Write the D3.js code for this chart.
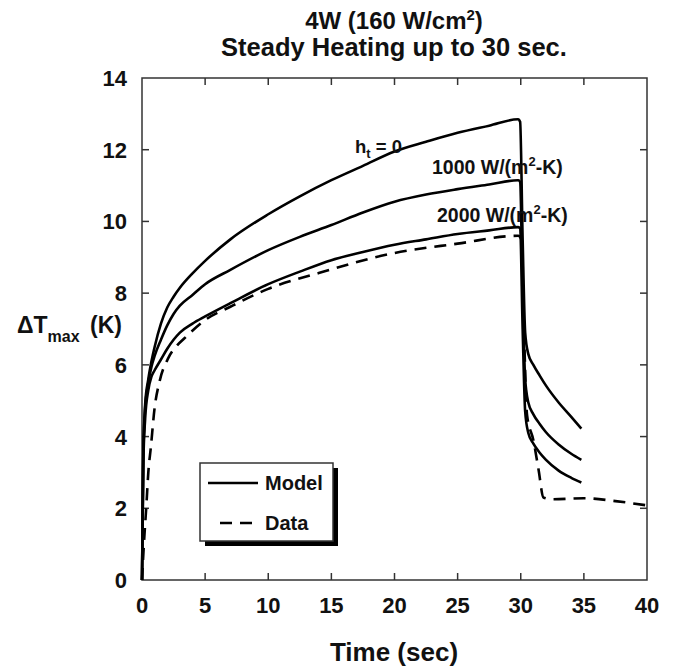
<!DOCTYPE html>
<html>
<head>
<meta charset="utf-8">
<script src="https://cdn.jsdelivr.net/npm/d3@7"></script>
<style>
    body { margin: 0; background: #fff; }
    text { font-family: "Liberation Sans", Arial, sans-serif; font-weight: bold; fill: #111; }
    .frame { fill: none; stroke: #333; stroke-width: 1.5; }
    .tick-mark { stroke: #333; stroke-width: 1.5; }
    .curve { fill: none; stroke: #000; stroke-width: 2.6; stroke-linejoin: round; }
    .dashed { stroke-dasharray: 12, 8; }
</style>
</head>
<body>
<div id="chart"></div>
<script>
// model time points (sec), shared by the three model curves
const modelTime = [0, 0.1, 0.25, 0.5, 0.75, 1, 1.5, 2, 2.5, 3, 4, 5, 7, 10, 12.5, 15, 17.5, 20, 22.5, 25,
    27.5, 29.8, 29.95, 30.15, 30.35, 30.6, 31, 31.5, 32, 33, 34, 34.8];
const modelH0 = [0, 3.5, 4.9, 5.6, 6.1, 6.5, 7.15, 7.6, 7.9, 8.15, 8.55, 8.9, 9.5, 10.2, 10.7, 11.15, 11.55, 11.95, 12.22, 12.47,
    12.67, 12.85, 12.78, 9.5, 6.9, 6.3, 6.0, 5.7, 5.42, 4.95, 4.55, 4.22];
const modelH1000 = [0, 3.4, 4.8, 5.5, 5.95, 6.25, 6.7, 7.1, 7.42, 7.65, 7.95, 8.25, 8.65, 9.2, 9.57, 9.9, 10.25, 10.55, 10.75, 10.9,
    11.03, 11.15, 11.1, 8.0, 5.6, 4.95, 4.62, 4.35, 4.12, 3.78, 3.52, 3.35];
const modelH2000 = [0, 3.2, 4.5, 5.3, 5.67, 5.85, 6.15, 6.45, 6.7, 6.9, 7.15, 7.35, 7.72, 8.25, 8.6, 8.92, 9.15, 9.35, 9.5, 9.65,
    9.75, 9.84, 9.8, 7.0, 4.7, 4.1, 3.8, 3.55, 3.35, 3.05, 2.85, 2.72];

// measured data
const dataTime = [0, 0.15, 0.35, 0.5, 0.7, 1.0, 1.4, 2.1, 2.8, 3.3, 5, 7, 10, 14, 20, 25, 29.8, 30.05, 30.25, 30.5,
    31, 31.4, 31.8, 32.5, 35, 37.5, 40];
const dataValue = [0, 1.0, 2.1, 3.0, 3.7, 4.8, 5.55, 6.2, 6.55, 6.72, 7.25, 7.62, 8.12, 8.56, 9.12, 9.38, 9.6, 9.5, 7.0, 4.6,
    3.9, 3.1, 2.3, 2.25, 2.28, 2.2, 2.08];

const xTicks = [0, 5, 10, 15, 20, 25, 30, 35, 40];
const yTicks = [0, 2, 4, 6, 8, 10, 12, 14];
const legendItems = [["Model", false], ["Data", true]];

const W = 673, H = 668;
const margin = { top: 78, right: 26, bottom: 88, left: 142 };

let svg = d3.select("#chart").append("svg").attr("width", W).attr("height", H);

let x = d3.scaleLinear().domain([0, 40]).range([margin.left, W - margin.right]);
let y = d3.scaleLinear().domain([0, 14]).range([H - margin.bottom, margin.top]);

// frame + inward ticks on all four sides
svg.append("rect").classed("frame", true)
    .attr("x", x(0)).attr("y", y(14)).attr("width", x(40) - x(0)).attr("height", y(0) - y(14));

let tickLen = 7;
for (let t of xTicks.slice(1, -1)) {
    svg.append("line").classed("tick-mark", true).attr("x1", x(t)).attr("x2", x(t)).attr("y1", y(0)).attr("y2", y(0) - tickLen);
    svg.append("line").classed("tick-mark", true).attr("x1", x(t)).attr("x2", x(t)).attr("y1", y(14)).attr("y2", y(14) + tickLen);
}
for (let t of yTicks.slice(1, -1)) {
    svg.append("line").classed("tick-mark", true).attr("x1", x(0)).attr("x2", x(0) + tickLen).attr("y1", y(t)).attr("y2", y(t));
    svg.append("line").classed("tick-mark", true).attr("x1", x(40)).attr("x2", x(40) - tickLen).attr("y1", y(t)).attr("y2", y(t));
}

svg.selectAll(".x-label").data(xTicks).join("text").classed("x-label", true)
    .attr("x", d => x(d)).attr("y", y(0) + 33).attr("text-anchor", "middle").style("font-size", "22px").text(d => d);
svg.selectAll(".y-label").data(yTicks).join("text").classed("y-label", true)
    .attr("x", x(0) - 15).attr("y", d => y(d) + 8).attr("text-anchor", "end").style("font-size", "22px").text(d => d);

// curves
let line = d3.line().x(d => x(d[0])).y(d => y(d[1])).curve(d3.curveMonotoneX);
for (let series of [modelH0, modelH1000, modelH2000]) {
    svg.append("path").classed("curve", true).attr("d", line(modelTime.map((t, i) => [t, series[i]])));
}
svg.append("path").classed("curve dashed", true).attr("d", line(dataTime.map((t, i) => [t, dataValue[i]])));

// titles
let title1 = svg.append("text").attr("x", 394).attr("y", 29).attr("text-anchor", "middle").style("font-size", "24px");
title1.append("tspan").text("4W (160 W/cm");
title1.append("tspan").attr("dy", -9).style("font-size", "15px").text("2");
title1.append("tspan").attr("dy", 9).text(")");
svg.append("text").attr("x", 394).attr("y", 56).attr("text-anchor", "middle").style("font-size", "25.5px")
    .text("Steady Heating up to 30 sec.");

svg.append("text").attr("x", 394).attr("y", 661).attr("text-anchor", "middle").style("font-size", "26px").text("Time (sec)");

let yLab = svg.append("text").attr("x", 17).attr("y", 333).style("font-size", "23px");
yLab.append("tspan").text("\u0394T");
yLab.append("tspan").attr("dy", 9).style("font-size", "16px").text("max");
yLab.append("tspan").attr("x", 90).attr("dy", -9).text("(K)");

// curve annotations
let ann0 = svg.append("text").attr("x", 355).attr("y", 153).style("font-size", "18.5px");
ann0.append("tspan").text("h");
ann0.append("tspan").attr("dy", 5).style("font-size", "13px").text("t");
ann0.append("tspan").attr("dy", -5).text(" = 0");

for (let [lab, ly, lx] of [["1000", 174, 432], ["2000", 222, 437]]) {
    let a = svg.append("text").attr("x", lx).attr("y", ly).style("font-size", "19.5px");
    a.append("tspan").text(lab + " W/(m");
    a.append("tspan").attr("dy", -8).style("font-size", "13px").text("2");
    a.append("tspan").attr("dy", 8).text("-K)");
}

// legend with drop shadow
let lg = svg.append("g").attr("transform", "translate(200,463)");
lg.append("rect").attr("x", 5).attr("y", 5).attr("width", 133).attr("height", 78).attr("fill", "#000");
lg.append("rect").attr("x", 0).attr("y", 0).attr("width", 133).attr("height", 78).attr("fill", "#fff").attr("stroke", "#333").attr("stroke-width", 1.5);
legendItems.forEach(([name, dashed], i) => {
    let ly = 20 + i * 40;
    lg.append("line").classed("curve", true).classed("dashed", dashed)
        .attr("x1", dashed ? 20 : 8).attr("x2", 58).attr("y1", ly).attr("y2", ly);
    lg.append("text").attr("x", 65).attr("y", ly + 7).style("font-size", "20px").text(name);
});
</script>
</body>
</html>
